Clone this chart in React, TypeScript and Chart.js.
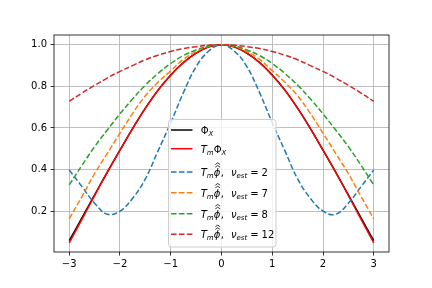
import React, { useEffect, useRef } from 'react';
import { Chart, registerables } from 'chart.js';
Chart.register(...registerables);

const xValues = [-3, -2.75, -2.5, -2.25, -2, -1.75, -1.5, -1.25, -1, -0.75, -0.5, -0.25, 0, 0.25, 0.5, 0.75, 1, 1.25, 1.5, 1.75, 2, 2.25, 2.5, 2.75, 3];
const phiX = [0.058, 0.168, 0.278, 0.388, 0.494, 0.598, 0.695, 0.782, 0.855, 0.915, 0.960, 0.990, 1, 0.990, 0.960, 0.915, 0.855, 0.782, 0.695, 0.598, 0.494, 0.388, 0.278, 0.168, 0.058];
const tmPhiX = [0.048, 0.160, 0.275, 0.386, 0.493, 0.597, 0.694, 0.781, 0.854, 0.914, 0.960, 0.990, 1, 0.990, 0.960, 0.914, 0.854, 0.781, 0.694, 0.597, 0.493, 0.386, 0.275, 0.160, 0.048];
const nu2 = [0.398, 0.318, 0.238, 0.185, 0.200, 0.262, 0.355, 0.490, 0.625, 0.770, 0.895, 0.970, 1, 0.970, 0.895, 0.770, 0.625, 0.490, 0.355, 0.262, 0.200, 0.185, 0.238, 0.318, 0.398];
const nu7 = [0.163, 0.270, 0.380, 0.478, 0.575, 0.670, 0.755, 0.820, 0.875, 0.930, 0.968, 0.993, 1, 0.993, 0.968, 0.930, 0.875, 0.820, 0.755, 0.670, 0.575, 0.478, 0.380, 0.270, 0.163];
const nu8 = [0.326, 0.420, 0.510, 0.590, 0.668, 0.740, 0.806, 0.862, 0.910, 0.948, 0.975, 0.995, 1, 0.995, 0.975, 0.948, 0.910, 0.862, 0.806, 0.740, 0.668, 0.590, 0.510, 0.420, 0.326];
const nu12 = [0.728, 0.768, 0.805, 0.840, 0.872, 0.900, 0.928, 0.950, 0.968, 0.982, 0.991, 0.998, 1, 0.998, 0.991, 0.982, 0.968, 0.950, 0.928, 0.900, 0.872, 0.840, 0.805, 0.768, 0.728];
const nuEst = [2, 7, 8, 12];
const xTicks = [-3, -2, -1, 0, 1, 2, 3];
const yTicks = [0.2, 0.4, 0.6, 0.8, 1.0];

const seriesValues = [phiX, tmPhiX, nu2, nu7, nu8, nu12];
const seriesColors = ['#000000', '#ff0000', '#1f77b4', '#ff7f0e', '#2ca02c', '#d62728'];
const seriesDashed = [false, false, true, true, true, true];

type Run = { t: string; it?: boolean; sub?: boolean; hat?: boolean; gap?: number };

const legendRuns: Run[][] = [
  [{ t: 'Φ' }, { t: 'X', it: true, sub: true }],
  [{ t: 'T', it: true }, { t: 'm', it: true, sub: true }, { t: 'Φ' }, { t: 'X', it: true, sub: true }],
  ...nuEst.map((n) => [
    { t: 'T', it: true },
    { t: 'm', it: true, sub: true },
    { t: 'ϕ', it: true, hat: true },
    { t: ',', gap: 7 },
    { t: 'ν', it: true },
    { t: 'est', it: true, sub: true, gap: 3 },
    { t: '=', gap: 3 },
    { t: String(n) },
  ] as Run[]),
];

const FONT = '"DejaVu Sans", sans-serif';

function drawRuns(ctx: CanvasRenderingContext2D, x: number, base: number, runs: Run[]) {
  let cx = x;
  for (const r of runs) {
    const size = r.sub ? 7 : 10;
    ctx.font = (r.it ? 'italic ' : '') + size + 'px ' + FONT;
    const y = r.sub ? base + 2 : base;
    ctx.fillText(r.t, cx, y);
    const w = ctx.measureText(r.t).width;
    if (r.hat) {
      ctx.save();
      ctx.strokeStyle = '#000';
      ctx.lineWidth = 0.8;
      const hc = cx + w * 0.62;
      for (const hy of [base - 10.5, base - 13.2]) {
        ctx.beginPath();
        ctx.moveTo(hc - 2.4, hy + 1.7);
        ctx.lineTo(hc, hy);
        ctx.lineTo(hc + 2.4, hy + 1.7);
        ctx.stroke();
      }
      ctx.restore();
    }
    cx += w + (r.hat ? 0.5 : 0) + (r.gap || 0);
  }
}

const framePlugin = {
  id: 'frame',
  afterDatasetsDraw(chart: any) {
    const { ctx, chartArea: a } = chart;
    ctx.save();
    ctx.strokeStyle = '#000';
    ctx.lineWidth = 0.8;
    ctx.strokeRect(a.left, a.top, a.right - a.left, a.bottom - a.top);
    ctx.restore();
  },
};

const legendPlugin = {
  id: 'mplLegend',
  afterDraw(chart: any) {
    const ctx: CanvasRenderingContext2D = chart.ctx;
    const bx = 168.5, by = 119.5, bw = 107.5, bh = 127.5, r = 3;
    ctx.save();
    ctx.beginPath();
    ctx.moveTo(bx + r, by);
    ctx.lineTo(bx + bw - r, by);
    ctx.arcTo(bx + bw, by, bx + bw, by + r, r);
    ctx.lineTo(bx + bw, by + bh - r);
    ctx.arcTo(bx + bw, by + bh, bx + bw - r, by + bh, r);
    ctx.lineTo(bx + r, by + bh);
    ctx.arcTo(bx, by + bh, bx, by + bh - r, r);
    ctx.lineTo(bx, by + r);
    ctx.arcTo(bx, by, bx + r, by, r);
    ctx.closePath();
    ctx.fillStyle = 'rgba(255,255,255,0.8)';
    ctx.fill();
    ctx.strokeStyle = '#cccccc';
    ctx.lineWidth = 1;
    ctx.stroke();
    const rows = [130, 148.7, 172, 192.7, 213.7, 234.3];
    rows.forEach((yy, i) => {
      ctx.beginPath();
      ctx.strokeStyle = seriesColors[i];
      ctx.lineWidth = 1.5;
      ctx.setLineDash(seriesDashed[i] ? [5.55, 2.4] : []);
      ctx.moveTo(171, yy);
      ctx.lineTo(192.5, yy);
      ctx.stroke();
      ctx.setLineDash([]);
      ctx.fillStyle = '#000';
      ctx.textAlign = 'left';
      ctx.textBaseline = 'alphabetic';
      drawRuns(ctx, 200.7, yy + 4, legendRuns[i]);
    });
    ctx.restore();
  },
};

export default function App() {
  const ref = useRef<HTMLCanvasElement>(null);
  useEffect(() => {
    if (!ref.current) return;
    const chart = new Chart(ref.current, {
      type: 'line',
      data: {
        datasets: seriesValues.map((vals, i) => ({
          data: vals.map((v, j) => ({ x: xValues[j], y: v })),
          borderColor: seriesColors[i],
          borderWidth: 1.5,
          borderDash: seriesDashed[i] ? [5.55, 2.4] : [],
          pointRadius: 0,
          fill: false,
          tension: 0.4,
          order: -i,
        })),
      },
      plugins: [framePlugin, legendPlugin],
      options: {
        animation: false,
        responsive: false,
        devicePixelRatio: 1,
        layout: { padding: { left: 0, top: 35, right: 43, bottom: 0 } },
        plugins: { legend: { display: false }, tooltip: { enabled: false } },
        scales: {
          x: {
            type: 'linear',
            min: -3.3,
            max: 3.3,
            afterBuildTicks: (s: any) => { s.ticks = xTicks.map((v) => ({ value: v })); },
            afterFit: (s: any) => { s.height = 36; },
            ticks: {
              autoSkip: false,
              maxRotation: 0,
              padding: 3,
              color: '#000',
              font: { family: FONT, size: 10 },
              callback: (v: any) => (v < 0 ? '\u2212' + Math.abs(v) : String(v)),
            },
            grid: { color: '#b0b0b0', lineWidth: 0.8, tickLength: 3.5, tickColor: '#000', tickWidth: 0.8 },
            border: { display: false },
          },
          y: {
            type: 'linear',
            min: 0.0036,
            max: 1.047,
            afterBuildTicks: (s: any) => { s.ticks = yTicks.map((v) => ({ value: v })); },
            afterFit: (s: any) => { s.width = 54; },
            ticks: {
              padding: 3.5,
              color: '#000',
              font: { family: FONT, size: 10 },
              callback: (v: any) => Number(v).toFixed(1),
            },
            grid: { color: '#b0b0b0', lineWidth: 0.8, tickLength: 3.5, tickColor: '#000', tickWidth: 0.8 },
            border: { display: false },
          },
        },
      },
    });
    return () => chart.destroy();
  }, []);
  return (
    <div style={{ position: 'fixed', left: 0, top: 0, width: 432, height: 288, background: '#fff' }}>
      <canvas ref={ref} width={432} height={288} style={{ display: 'block' }} />
    </div>
  );
}
